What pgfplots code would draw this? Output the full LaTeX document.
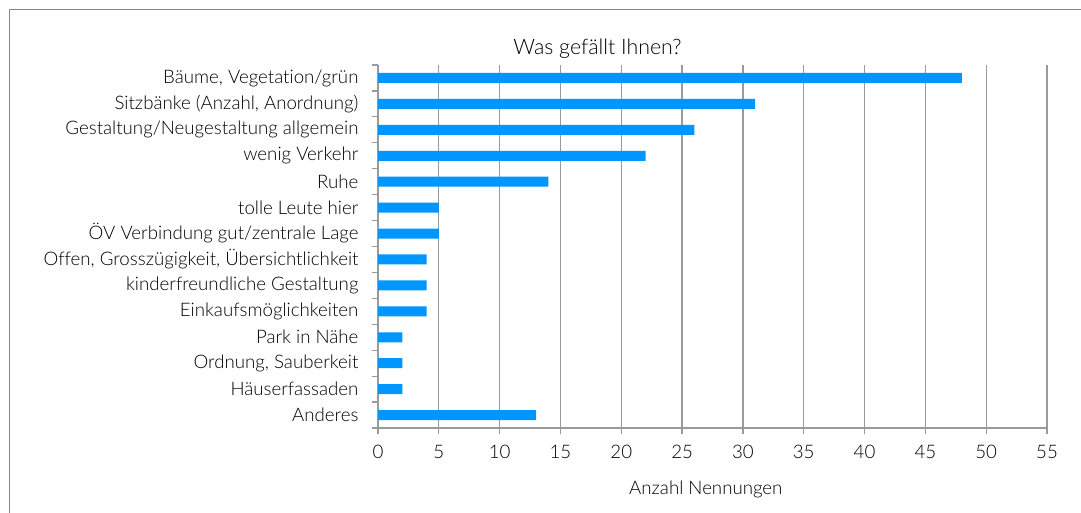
\documentclass[border=0pt]{standalone}
\usepackage{fontspec}
\setmainfont{Lato Light}[Ligatures=NoCommon]
\usepackage{pgfplots}
\pgfplotsset{compat=1.18}
\definecolor{barblue}{HTML}{0096FF}
\definecolor{gridgray}{HTML}{9A9A9A}
\definecolor{framegray}{HTML}{7F8C94}
\begin{document}
\begin{tikzpicture}
\useasboundingbox (0pt,0pt) rectangle (810.75pt,-384.75pt);
\draw[framegray, line width=1.1pt] (7.125pt,-420pt) -- (7.125pt,-7.125pt) -- (840pt,-7.125pt);
\begin{axis}[
  at={(283.5pt,-321pt)}, anchor=south west,
  scale only axis, width=501.75pt, height=272.25pt,
  xbar, bar width=7.5pt,
  xmin=0, xmax=55, xtick={0,5,...,55},
  ymin=-0.5, ymax=13.5, y dir=reverse,
  ytick={0,...,13},
  yticklabels={{Bäume, Vegetation/grün},{Sitzbänke (Anzahl, Anordnung)},{Gestaltung/Neugestaltung allgemein},{wenig Verkehr},{Ruhe},{tolle Leute hier},{ÖV Verbindung gut/zentrale Lage},{Offen, Grosszügigkeit, Übersichtlichkeit},{kinderfreundliche Gestaltung},{Einkaufsmöglichkeiten},{Park in Nähe},{Ordnung, Sauberkeit},{Häuserfassaden},{Anderes}},
  minor ytick={-0.5,0.5,...,13.5},
  axis x line*=bottom, axis y line*=left,
  axis line style={gridgray, line width=0.9pt, -},
  xmajorgrids, grid style={gridgray, line width=0.9pt},
  tick align=outside,
  major tick length=4.5pt, minor tick length=4.5pt,
  xtick style={gridgray, line width=0.9pt},
  ytick style={gridgray, line width=0.9pt},
  major y tick style={draw=none},
  /pgf/number format/assume math mode=true,
  ticklabel style={font=\fontsize{14}{16}\selectfont, text=black},
  yticklabel style={anchor=east, inner sep=0pt, xshift=-10pt},
  xticklabel style={anchor=center, inner sep=0pt, yshift=-13.5pt},
  title={Was gefällt Ihnen?},
  title style={font=\fontsize{16}{19}\selectfont, at={(axis description cs:0.5,1)}, anchor=center, yshift=6pt, xshift=-86.25pt},
  xlabel={Anzahl Nennungen},
  xlabel style={font=\fontsize{14}{16}\selectfont, at={(axis description cs:0.5,0)}, anchor=center, yshift=-45.75pt, xshift=-5pt},
]
\addplot[fill=barblue, draw=none] coordinates {
(48,0) (31,1) (26,2) (22,3) (14,4) (5,5) (5,6) (4,7) (4,8) (4,9) (2,10) (2,11) (2,12) (13,13)};
\end{axis}
\end{tikzpicture}
\end{document}
